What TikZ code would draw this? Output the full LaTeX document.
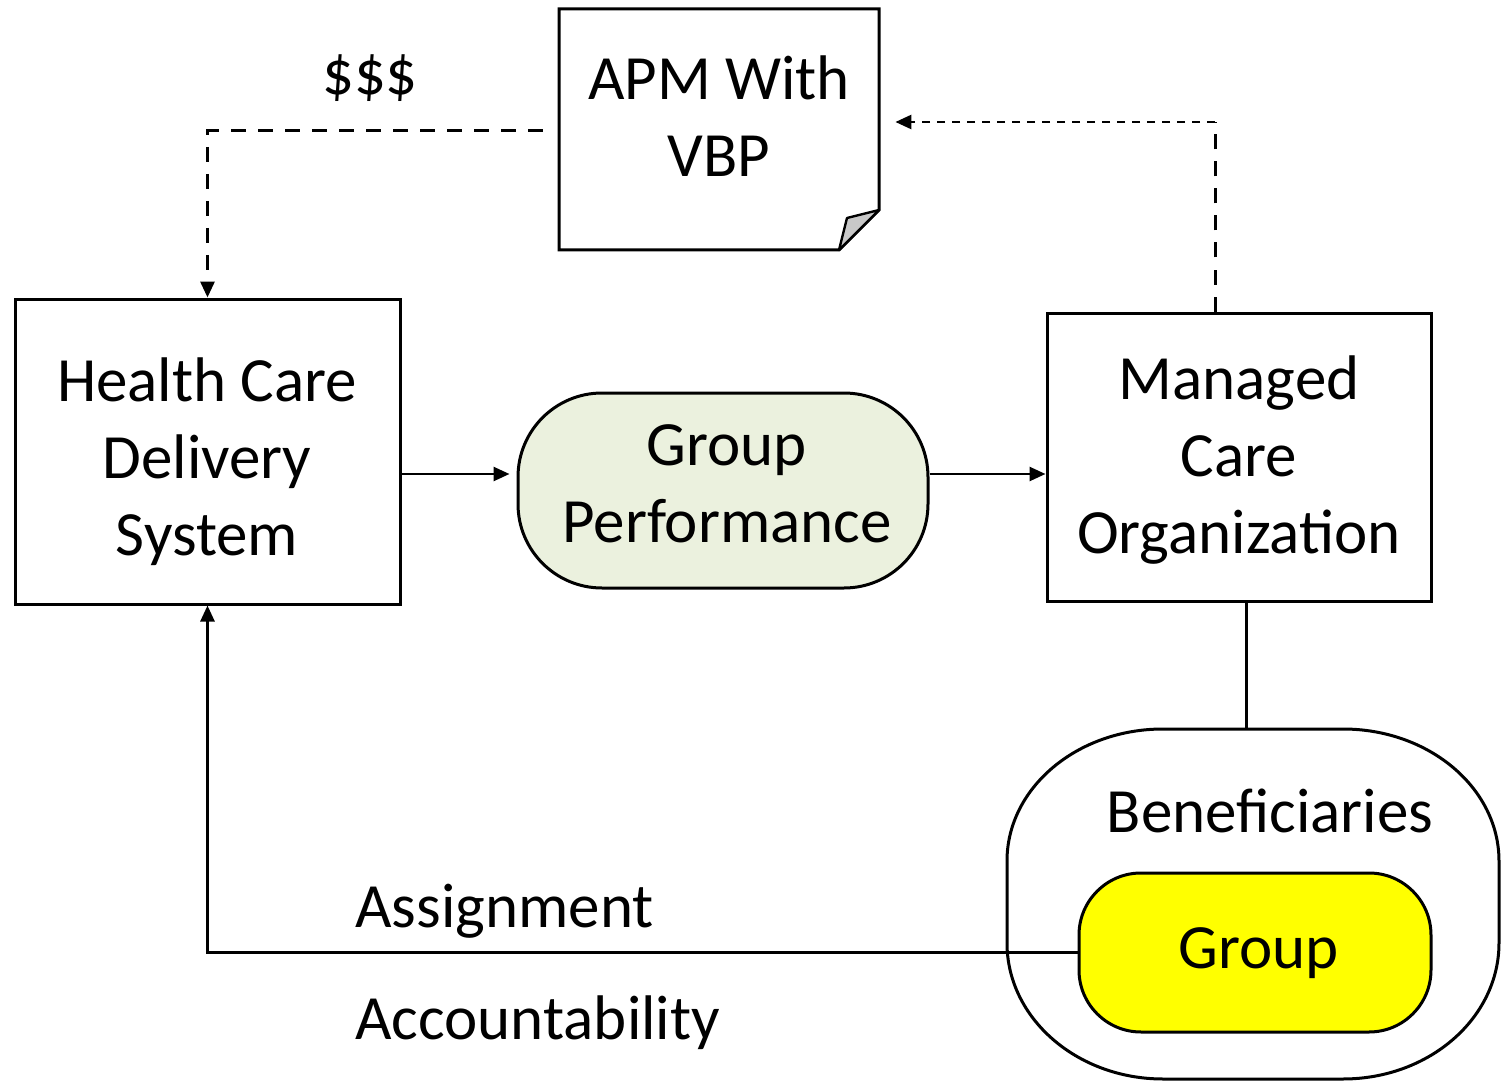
\documentclass[tikz,border=0pt]{standalone}
\usepackage{fontspec}
\setmainfont{Carlito}
\usetikzlibrary{arrows.meta}
\definecolor{perfgreen}{HTML}{EBF1DE}
\definecolor{foldgray}{HTML}{C8C8C8}
\definecolor{groupyellow}{HTML}{FFFF00}
\begin{document}
\begin{tikzpicture}[x=0.5pt,y=-0.5pt,
  txt/.style={font=\fontsize{31.5}{38.5}\selectfont, align=center, inner sep=0pt},
  box/.style={draw, line width=1.5pt, inner sep=0pt},
  tip/.style={-{Triangle[length=8pt,width=7pt]}},
  arr/.style={line width=1.3pt, tip},
  dsh/.style={line width=1.5pt, dash pattern=on 7.5pt off 6pt},
  dshthin/.style={line width=1.3pt, dash pattern=on 4pt off 3.5pt}]
\useasboundingbox (0,0) rectangle (1501,1081);

% boxes
\node[box, minimum width=192.5pt, minimum height=152.5pt] (hcds) at (207.5,451.5) {};
\node[txt] (hcdstxt) at (207,462) {Health Care\\Delivery\\System};

\node[box, fill=perfgreen, rounded corners=42pt, minimum width=205pt, minimum height=97.5pt] (gp) at (723,490.5) {};
\node[txt] (gptxt) at (727,484) {Group\\Performance};

\node[box, minimum width=192pt, minimum height=144pt] (mco) at (1239,457) {};
\node[txt] (mcotxt) at (1239,460) {Managed\\Care\\Organization};

% document shape with folded corner
\node[minimum width=160pt, minimum height=120.5pt, inner sep=0pt] (apm) at (719,129.5) {};
\draw[line width=1.5pt, line join=miter] (559,9) -- (879,9) -- (879,210) -- (839,250) -- (559,250) -- cycle;
\filldraw[fill=foldgray, line width=1.2pt, line join=round] (839,250) -- (847,218) -- (879,210) -- cycle;
\node[txt] (apmtxt) at (719,116) {APM With\\VBP};

% beneficiaries container with elliptical corners
\node[minimum width=246.5pt, minimum height=175.5pt, inner sep=0pt] (bene) at (1253,904) {};
\draw[line width=1.5pt] (1163,729) -- (1343,729)
  arc[start angle=90, end angle=0, x radius=78pt, y radius=66pt] -- (1499,943)
  arc[start angle=0, end angle=-90, x radius=78pt, y radius=68pt] -- (1163,1079)
  arc[start angle=-90, end angle=-180, x radius=78pt, y radius=68pt] -- (1007,861)
  arc[start angle=180, end angle=90, x radius=78pt, y radius=66pt] -- cycle;
\node[txt] (benetxt) at (1270,811) {Beneficiaries};

\node[box, fill=groupyellow, rounded corners=31pt, minimum width=176pt, minimum height=79.5pt] (grp) at (1255,952.5) {};
\node[txt] (grptxt) at (1259,953) {Group};

% labels
\node[txt] (dollars) at (370,78) {\$\$\$};
\node[txt, anchor=west] (assign) at (355,911) {Assignment};
\node[txt, anchor=west] (account) at (355,1023) {Accountability};

% connectors
\coordinate (arrowrow) at (0,474);
\draw[arr] (hcds.east |- arrowrow) -- ([xshift=-3.5pt]gp.west |- arrowrow);
\draw[arr] (gp.east |- arrowrow) -- (mco.west |- arrowrow);

\coordinate (payrow) at (0,131);
\draw[dsh, tip] ([xshift=-8pt]apm.west |- payrow) -| (hcds.north);

\coordinate (upcol) at (1215,0);
\coordinate (bend) at (1215,122);
\draw[dsh] (mco.north -| upcol) -- (bend);
\draw[dshthin, tip] (bend) -- ([xshift=8pt]apm.east |- bend);

\coordinate (linkcol) at (1246,0);
\draw[line width=1.5pt] (mco.south -| linkcol) -- (bene.north -| linkcol);

\draw[arr] (grp.west) -| (hcds.south);
\end{tikzpicture}
\end{document}
